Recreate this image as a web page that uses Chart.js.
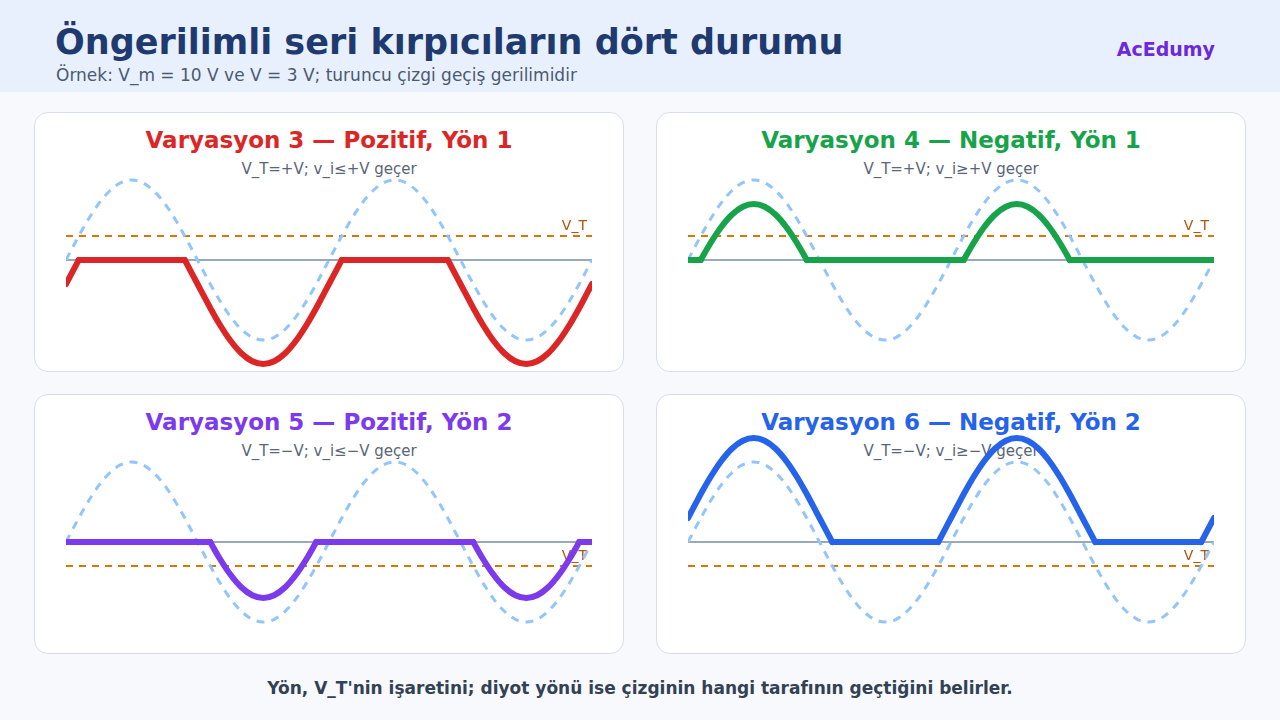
<!DOCTYPE html>
<html lang="tr">
<head>
<meta charset="utf-8">
<script src="https://cdn.jsdelivr.net/npm/chart.js@4.4.1/dist/chart.umd.min.js"></script>
<style>
  body { margin: 0; width: 1280px; height: 720px; background: #f7f9fc; font-family: "DejaVu Sans", sans-serif; position: relative; overflow: hidden; }
  .header { position: absolute; left: 0; top: 0; width: 1280px; height: 92px; background: #e8f0fe; }
  .title { position: absolute; left: 55px; top: 22px; font-size: 35px; font-weight: bold; color: #1e3a6e; white-space: nowrap; }
  .subtitle { position: absolute; left: 56px; top: 65px; font-size: 17px; color: #4a5a70; white-space: nowrap; }
  .brand { position: absolute; right: 65px; top: 38px; font-size: 19px; font-weight: bold; color: #6d28d9; }
  .panel { position: absolute; width: 588px; height: 258px; background: #fff; border: 1px solid #d8dee8; border-radius: 14px; }
  .ptitle { position: absolute; left: 0; width: 100%; top: 14px; text-align: center; font-size: 23px; font-weight: bold; }
  .psub { position: absolute; left: 0; width: 100%; top: 47px; text-align: center; font-size: 15px; color: #5a6578; }
  .chartbox { position: absolute; width: 526px; height: 256px; }
  .footer { position: absolute; left: 0; width: 1280px; top: 678px; text-align: center; font-size: 17px; font-weight: bold; color: #334155; }
</style>
</head>
<body>
<div class="header"></div>
<div class="title">Öngerilimli seri kırpıcıların dört durumu</div>
<div class="subtitle">Örnek: V_m = 10 V ve V = 3 V; turuncu çizgi geçiş gerilimidir</div>
<div class="brand">AcEdumy</div>

<div class="panel" style="left:34px;top:112px;"><div class="ptitle" style="color:#dc2626">Varyasyon 3 — Pozitif, Yön 1</div><div class="psub">V_T=+V; v_i≤+V geçer</div></div>
<div class="panel" style="left:656px;top:112px;"><div class="ptitle" style="color:#16a34a">Varyasyon 4 — Negatif, Yön 1</div><div class="psub">V_T=+V; v_i≥+V geçer</div></div>
<div class="panel" style="left:34px;top:394px;"><div class="ptitle" style="color:#7c3aed">Varyasyon 5 — Pozitif, Yön 2</div><div class="psub">V_T=−V; v_i≤−V geçer</div></div>
<div class="panel" style="left:656px;top:394px;"><div class="ptitle" style="color:#2563eb">Varyasyon 6 — Negatif, Yön 2</div><div class="psub">V_T=−V; v_i≥−V geçer</div></div>

<div class="chartbox" style="left:66px;top:132px;"><canvas id="c3"></canvas></div>
<div class="chartbox" style="left:688px;top:132px;"><canvas id="c4"></canvas></div>
<div class="chartbox" style="left:66px;top:414px;"><canvas id="c5"></canvas></div>
<div class="chartbox" style="left:688px;top:414px;"><canvas id="c6"></canvas></div>

<div class="footer">Yön, V_T'nin işaretini; diyot yönü ise çizginin hangi tarafının geçtiğini belirler.</div>

<script>
// Phase angle (degrees) over two cycles, incl. the points where v_i = ±3 V
const angles = [0, 15, 17.46, 30, 45, 60, 75, 90, 105, 120, 135, 150, 162.54, 165, 180, 195, 197.46, 210, 225, 240, 255, 270, 285, 300, 315, 330, 342.54, 345, 360,
  375, 377.46, 390, 405, 420, 435, 450, 465, 480, 495, 510, 522.54, 525, 540, 555, 557.46, 570, 585, 600, 615, 630, 645, 660, 675, 690, 702.54, 705, 720];

// Input voltage v_i (V), peak 10 V
const inputV = [0, 2.59, 3, 5, 7.07, 8.66, 9.66, 10, 9.66, 8.66, 7.07, 5, 3, 2.59, 0, -2.59, -3, -5, -7.07, -8.66, -9.66, -10, -9.66, -8.66, -7.07, -5, -3, -2.59, 0,
  2.59, 3, 5, 7.07, 8.66, 9.66, 10, 9.66, 8.66, 7.07, 5, 3, 2.59, 0, -2.59, -3, -5, -7.07, -8.66, -9.66, -10, -9.66, -8.66, -7.07, -5, -3, -2.59, 0];

// Output voltages (V) for each variation
const outV3 = [-3, -0.41, 0, 0, 0, 0, 0, 0, 0, 0, 0, 0, 0, -0.41, -3, -5.59, -6, -8, -10.07, -11.66, -12.66, -13, -12.66, -11.66, -10.07, -8, -6, -5.59, -3,
  -0.41, 0, 0, 0, 0, 0, 0, 0, 0, 0, 0, 0, -0.41, -3, -5.59, -6, -8, -10.07, -11.66, -12.66, -13, -12.66, -11.66, -10.07, -8, -6, -5.59, -3];
const outV4 = [0, 0, 0, 2, 4.07, 5.66, 6.66, 7, 6.66, 5.66, 4.07, 2, 0, 0, 0, 0, 0, 0, 0, 0, 0, 0, 0, 0, 0, 0, 0, 0, 0,
  0, 0, 2, 4.07, 5.66, 6.66, 7, 6.66, 5.66, 4.07, 2, 0, 0, 0, 0, 0, 0, 0, 0, 0, 0, 0, 0, 0, 0, 0, 0, 0];
const outV5 = [0, 0, 0, 0, 0, 0, 0, 0, 0, 0, 0, 0, 0, 0, 0, 0, 0, -2, -4.07, -5.66, -6.66, -7, -6.66, -5.66, -4.07, -2, 0, 0, 0,
  0, 0, 0, 0, 0, 0, 0, 0, 0, 0, 0, 0, 0, 0, 0, 0, -2, -4.07, -5.66, -6.66, -7, -6.66, -5.66, -4.07, -2, 0, 0, 0];
const outV6 = [3, 5.59, 6, 8, 10.07, 11.66, 12.66, 13, 12.66, 11.66, 10.07, 8, 6, 5.59, 3, 0.41, 0, 0, 0, 0, 0, 0, 0, 0, 0, 0, 0, 0.41, 3,
  5.59, 6, 8, 10.07, 11.66, 12.66, 13, 12.66, 11.66, 10.07, 8, 6, 5.59, 3, 0.41, 0, 0, 0, 0, 0, 0, 0, 0, 0, 0, 0, 0.41, 3];

// Transition voltage V_T per variation
const vtLevels = [3, 3, -3, -3];

// Draws the zero line, the V_T line and its label through the y scale
const refLines = {
  id: "refLines",
  beforeDatasetsDraw(chart, args, opts) {
    const { ctx, chartArea } = chart;
    const y = chart.scales.y;
    ctx.save();
    const y0 = y.getPixelForValue(0);
    ctx.strokeStyle = "#9aa8bc";
    ctx.lineWidth = 2;
    ctx.beginPath();
    ctx.moveTo(chartArea.left, y0);
    ctx.lineTo(chartArea.right, y0);
    ctx.stroke();

    const yt = y.getPixelForValue(opts.vt);
    ctx.strokeStyle = "#d97706";
    ctx.setLineDash([7, 6]);
    ctx.beginPath();
    ctx.moveTo(chartArea.left, yt);
    ctx.lineTo(chartArea.right, yt);
    ctx.stroke();
    ctx.setLineDash([]);

    ctx.fillStyle = "#b45309";
    ctx.font = "14px 'DejaVu Sans', sans-serif";
    ctx.textAlign = "right";
    ctx.textBaseline = "alphabetic";
    ctx.fillText("V_T", chartArea.right - 5, yt - 6);
    ctx.restore();
  }
};

const toPoints = (arr) => angles.map((a, i) => ({ x: a, y: arr[i] }));

// Split an output into its curved lobes and its clipped (flat) parts,
// so the corners at the break points stay sharp
function splitOutput(arr) {
  const curve = angles.map((a, i) => {
    const keep = arr[i] !== 0 || (i > 0 && arr[i - 1] !== 0) || (i < arr.length - 1 && arr[i + 1] !== 0);
    return { x: a, y: keep ? arr[i] : null };
  });
  const flat = angles.map((a, i) => ({ x: a, y: arr[i] === 0 ? 0 : null }));
  return { curve, flat };
}

function makeClipper(id, output, color, vt) {
  const parts = splitOutput(output);
  const ctx = document.getElementById(id).getContext("2d");
  return new Chart(ctx, {
    type: "line",
    data: {
      datasets: [
        {
          label: "v_o",
          data: parts.curve,
          borderColor: color,
          borderWidth: 6,
          borderCapStyle: "round",
          pointRadius: 0,
          cubicInterpolationMode: "monotone",
          clip: false,
          order: 0,
        },
        {
          label: "v_o flat",
          data: parts.flat,
          borderColor: color,
          borderWidth: 6,
          borderCapStyle: "round",
          pointRadius: 0,
          tension: 0,
          clip: false,
          order: 0,
        },
        {
          label: "v_i",
          data: toPoints(inputV),
          borderColor: "#93c5fd",
          borderWidth: 3,
          borderDash: [8, 7],
          pointRadius: 0,
          cubicInterpolationMode: "monotone",
          clip: false,
          order: 1,
        },
      ],
    },
    options: {
      responsive: true,
      maintainAspectRatio: false,
      animation: false,
      layout: { padding: 0 },
      scales: {
        x: { type: "linear", display: false, min: 0, max: 720 },
        y: { display: false, min: -16, max: 16 },
      },
      plugins: {
        legend: { display: false },
        tooltip: { enabled: false },
        refLines: { vt: vt },
      },
    },
    plugins: [refLines],
  });
}

makeClipper("c3", outV3, "#dc2626", vtLevels[0]);
makeClipper("c4", outV4, "#16a34a", vtLevels[1]);
makeClipper("c5", outV5, "#7c3aed", vtLevels[2]);
makeClipper("c6", outV6, "#2563eb", vtLevels[3]);
</script>
</body>
</html>
